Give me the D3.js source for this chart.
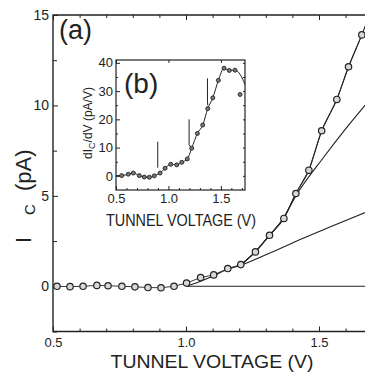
<!DOCTYPE html>
<html>
<head>
<meta charset="utf-8">
<script src="https://cdn.jsdelivr.net/npm/d3@7"></script>
<style>
  body { margin: 0; background: #fff; }
  svg { display: block; font-family: "Liberation Sans", Arial, sans-serif; }
  .tick text { fill: #222; }
  .tick line { stroke: #222; }
</style>
</head>
<body>
<script>
// Main panel (a): collector current vs tunnel voltage
const mainVoltage = [0.515, 0.564, 0.613, 0.665, 0.707, 0.759, 0.808, 0.857, 0.906, 0.955,
    1.002, 1.055, 1.104, 1.157, 1.206, 1.261, 1.314, 1.368, 1.413, 1.462,
    1.51, 1.567, 1.611, 1.661];
const mainCurrent = [0, -0.02, 0, 0.05, 0.03, 0, -0.03, -0.07, -0.08, 0,
    0.18, 0.48, 0.63, 0.98, 1.2, 1.9, 2.82, 3.75, 5.13, 6.42,
    8.6, 10.33, 12.14, 13.9];

// fit curves
const zeroFitV = [1.0, 1.7];
const zeroFitI = [0, 0];
const lowFitV = [1.0, 1.05, 1.1, 1.15, 1.206, 1.3, 1.445, 1.55, 1.69];
const lowFitI = [0, 0.25, 0.55, 0.9, 1.16, 1.74, 2.69, 3.33, 4.18];
const midFitV = [1.206, 1.26, 1.31, 1.363, 1.413, 1.519, 1.6, 1.69];
const midFitI = [1.16, 1.9, 2.75, 3.7, 5.0, 7.16, 8.7, 10.3];
const highFitV = [1.206, 1.261, 1.314, 1.368, 1.413, 1.462, 1.51, 1.567, 1.611, 1.661, 1.69];
const highFitI = [1.2, 1.9, 2.82, 3.75, 5.13, 6.42, 8.6, 10.33, 12.14, 13.9, 15.0];

const mainXTicks = [0.5, 1.0, 1.5];
const mainXMinor = [0.6, 0.7, 0.8, 0.9, 1.1, 1.2, 1.3, 1.4, 1.6];
const mainYTicks = [0, 5, 10, 15];
const mainYMinor = [-2.5, 2.5, 7.5, 12.5];

// Inset (b): dIc/dV
const insetVoltage = [0.554, 0.617, 0.665, 0.722, 0.77, 0.818, 0.865, 0.92, 0.968, 1.022,
    1.079, 1.127, 1.18, 1.222, 1.276, 1.327, 1.375, 1.423, 1.476, 1.53,
    1.58, 1.635];
const insetDeriv = [0.1, 0.6, 1.0, 0.1, -0.4, -0.5, 0, 1.0, 2.7, 4.1,
    3.9, 4.8, 6.0, 9.8, 15.0, 18.0, 23.8, 27.6, 33.8, 38.1,
    37.3, 37.4];
const insetLineV = [0.5, 0.554, 0.617, 0.665, 0.722, 0.77, 0.818, 0.865, 0.92, 0.968, 1.022,
    1.079, 1.127, 1.18, 1.222, 1.276, 1.327, 1.375, 1.423, 1.476, 1.53,
    1.58, 1.635, 1.685, 1.73];
const insetLineD = [0.1, 0.1, 0.6, 1.0, 0.1, -0.4, -0.5, 0, 1.0, 2.7, 4.1,
    3.9, 4.8, 6.0, 9.8, 15.0, 18.0, 23.8, 27.6, 33.8, 38.1,
    37.3, 37.4, 35.8, 32.3];
const strayV = [1.683];
const strayD = [28.8];

// vertical threshold markers
const markerV = [0.898, 1.197, 1.372];
const markerTop = [12.1, 20.0, 34.5];
const markerBottom = [2.9, 11.1, 26.5];
const markerTipV = [0.898, 1.222, 1.375];
const markerTipD = [2.9, 9.6, 25.0];

const insetXTicks = [0.5, 1.0, 1.5];
const insetXMinor = [0.6, 0.7, 0.8, 0.9, 1.1, 1.2, 1.3, 1.4, 1.6, 1.7];
const insetYTicks = [0, 10, 20, 30, 40];
const insetYMinor = [5, 15, 25, 35];

const svg = d3.select('body').append('svg')
    .attr('width', 365)
    .attr('height', 372);

const ink = '#222';

//Scales
const x = d3.scaleLinear().domain([0.5, 1.7]).range([53, 372.2]);
const y = d3.scaleLinear().domain([-2.5, 15]).range([331.5, 15]);

const xi = d3.scaleLinear().domain([0.5, 1.73]).range([116, 245]);
const yi = d3.scaleLinear().domain([-5, 41]).range([190, 60]);

function styleAxis(g, size) {
    g.select('.domain').remove();
    g.selectAll('.tick text').style('font-size', size + 'px');
}

// main axes
svg.append('g')
    .attr('transform', `translate(0, ${y(-2.5)})`)
    .call(d3.axisBottom(x).tickValues(mainXTicks).tickSize(-5).tickPadding(6).tickFormat(d3.format('.1f')))
    .call(g => styleAxis(g, 13));
svg.append('g')
    .attr('transform', `translate(0, ${y(-2.5)})`)
    .call(d3.axisBottom(x).tickValues(mainXMinor).tickSize(-3).tickFormat(''))
    .call(g => styleAxis(g, 13));
svg.append('g')
    .attr('transform', `translate(0, ${y(15)})`)
    .call(d3.axisTop(x).tickValues(mainXTicks).tickSize(-5).tickFormat(''))
    .call(g => styleAxis(g, 13));
svg.append('g')
    .attr('transform', `translate(0, ${y(15)})`)
    .call(d3.axisTop(x).tickValues(mainXMinor).tickSize(-3).tickFormat(''))
    .call(g => styleAxis(g, 13));
svg.append('g')
    .attr('transform', `translate(${x(0.5)}, 0)`)
    .call(d3.axisLeft(y).tickValues(mainYTicks).tickSize(-5).tickPadding(4).tickFormat(d3.format('d')))
    .call(g => styleAxis(g, 14));
svg.append('g')
    .attr('transform', `translate(${x(0.5)}, 0)`)
    .call(d3.axisLeft(y).tickValues(mainYMinor).tickSize(-4).tickFormat(''))
    .call(g => styleAxis(g, 14));

// frame (right side runs off the page)
svg.append('path')
    .attr('d', `M${x(1.7)},${y(15)}H${x(0.5)}V${y(-2.5)}H${x(1.7)}`)
    .attr('fill', 'none')
    .attr('stroke', ink)
    .attr('stroke-width', 1.4);

// fit lines
const line = d3.line().x(d => x(d[0])).y(d => y(d[1])).curve(d3.curveMonotoneX);
[[zeroFitV, zeroFitI], [lowFitV, lowFitI], [midFitV, midFitI], [highFitV, highFitI]].forEach(([vs, is]) => {
    svg.append('path')
        .datum(vs.map((v, i) => [v, is[i]]))
        .attr('d', line)
        .attr('fill', 'none')
        .attr('stroke', ink)
        .attr('stroke-width', 1.1);
});

// data line and markers
const mainData = mainVoltage.map((v, i) => [v, mainCurrent[i]]);
svg.append('path')
    .datum(mainData)
    .attr('d', d3.line().x(d => x(d[0])).y(d => y(d[1])))
    .attr('fill', 'none')
    .attr('stroke', ink)
    .attr('stroke-width', 0.9);
svg.append('g')
    .selectAll('circle')
    .data(mainData)
    .enter()
    .append('circle')
    .attr('cx', d => x(d[0]))
    .attr('cy', d => y(d[1]))
    .attr('r', 3.2)
    .attr('fill', '#d8d8d8')
    .attr('stroke', ink)
    .attr('stroke-width', 1.2);

// axis titles
svg.append('text')
    .attr('x', 212)
    .attr('y', 368)
    .attr('text-anchor', 'middle')
    .attr('textLength', 203)
    .attr('lengthAdjust', 'spacingAndGlyphs')
    .style('font-size', '19px')
    .attr('fill', ink)
    .text('TUNNEL VOLTAGE (V)');

const yTitle = svg.append('text')
    .attr('transform', 'translate(31, 243) rotate(-90)')
    .attr('fill', ink);
yTitle.append('tspan').style('font-size', '22px').text('I');
yTitle.append('tspan').style('font-size', '15px').attr('dx', 22).attr('dy', 4).text('C');
yTitle.append('tspan').style('font-size', '22px').attr('dx', 13).attr('dy', -4).text('(pA)');

svg.append('text')
    .attr('x', 59)
    .attr('y', 39)
    .style('font-size', '27px')
    .attr('fill', ink)
    .text('(a)');

// Inset
svg.append('rect')
    .attr('x', xi(0.5))
    .attr('y', yi(41))
    .attr('width', xi(1.73) - xi(0.5))
    .attr('height', yi(-5) - yi(41))
    .attr('fill', '#fff')
    .attr('stroke', ink)
    .attr('stroke-width', 1.2);

svg.append('g')
    .attr('transform', `translate(0, ${yi(-5)})`)
    .call(d3.axisBottom(xi).tickValues(insetXTicks).tickSize(-4).tickPadding(4).tickFormat(d3.format('.1f')))
    .call(g => styleAxis(g, 13));
svg.append('g')
    .attr('transform', `translate(0, ${yi(-5)})`)
    .call(d3.axisBottom(xi).tickValues(insetXMinor).tickSize(-2).tickFormat(''))
    .call(g => styleAxis(g, 13));
svg.append('g')
    .attr('transform', `translate(${xi(0.5)}, 0)`)
    .call(d3.axisLeft(yi).tickValues(insetYTicks).tickSize(-4).tickPadding(3).tickFormat(d3.format('d')))
    .call(g => styleAxis(g, 13));
svg.append('g')
    .attr('transform', `translate(${xi(0.5)}, 0)`)
    .call(d3.axisLeft(yi).tickValues(insetYMinor).tickSize(-2).tickFormat(''))
    .call(g => styleAxis(g, 13));
svg.append('g')
    .attr('transform', `translate(${xi(1.73)}, 0)`)
    .call(d3.axisRight(yi).tickValues(insetYTicks.concat(insetYMinor)).tickSize(-2).tickFormat(''))
    .call(g => styleAxis(g, 13));
svg.append('g')
    .attr('transform', `translate(0, ${yi(41)})`)
    .call(d3.axisTop(xi).tickValues(insetXTicks).tickSize(-3).tickFormat(''))
    .call(g => styleAxis(g, 13));

svg.append('path')
    .datum(insetLineV.map((v, i) => [v, insetLineD[i]]))
    .attr('d', d3.line().x(d => xi(d[0])).y(d => yi(d[1])).curve(d3.curveMonotoneX))
    .attr('fill', 'none')
    .attr('stroke', ink)
    .attr('stroke-width', 1);

// threshold markers
svg.append('g')
    .selectAll('path')
    .data(markerV)
    .enter()
    .append('path')
    .attr('d', (v, i) => `M${xi(v)},${yi(markerTop[i])}V${yi(markerBottom[i])}L${xi(markerTipV[i])},${yi(markerTipD[i])}`)
    .attr('fill', 'none')
    .attr('stroke', ink)
    .attr('stroke-width', 1);

svg.append('g')
    .selectAll('circle')
    .data(insetVoltage.map((v, i) => [v, insetDeriv[i]]).concat(strayV.map((v, i) => [v, strayD[i]])))
    .enter()
    .append('circle')
    .attr('cx', d => xi(d[0]))
    .attr('cy', d => yi(d[1]))
    .attr('r', 2)
    .attr('fill', '#777')
    .attr('stroke', ink)
    .attr('stroke-width', 0.9);

svg.append('text')
    .attr('x', 181)
    .attr('y', 226)
    .attr('text-anchor', 'middle')
    .attr('textLength', 150)
    .attr('lengthAdjust', 'spacingAndGlyphs')
    .style('font-size', '16px')
    .attr('fill', ink)
    .text('TUNNEL VOLTAGE (V)');

const yiTitle = svg.append('text')
    .attr('transform', 'translate(92, 123) rotate(-90)')
    .attr('text-anchor', 'middle')
    .attr('fill', ink)
    .style('font-size', '12px');
yiTitle.append('tspan').text('dI');
yiTitle.append('tspan').style('font-size', '9px').attr('dy', 3).text('C');
yiTitle.append('tspan').attr('dy', -3).text('/dV (pA/V)');

svg.append('text')
    .attr('x', 124)
    .attr('y', 93)
    .style('font-size', '28px')
    .attr('fill', ink)
    .text('(b)');
</script>
</body>
</html>
